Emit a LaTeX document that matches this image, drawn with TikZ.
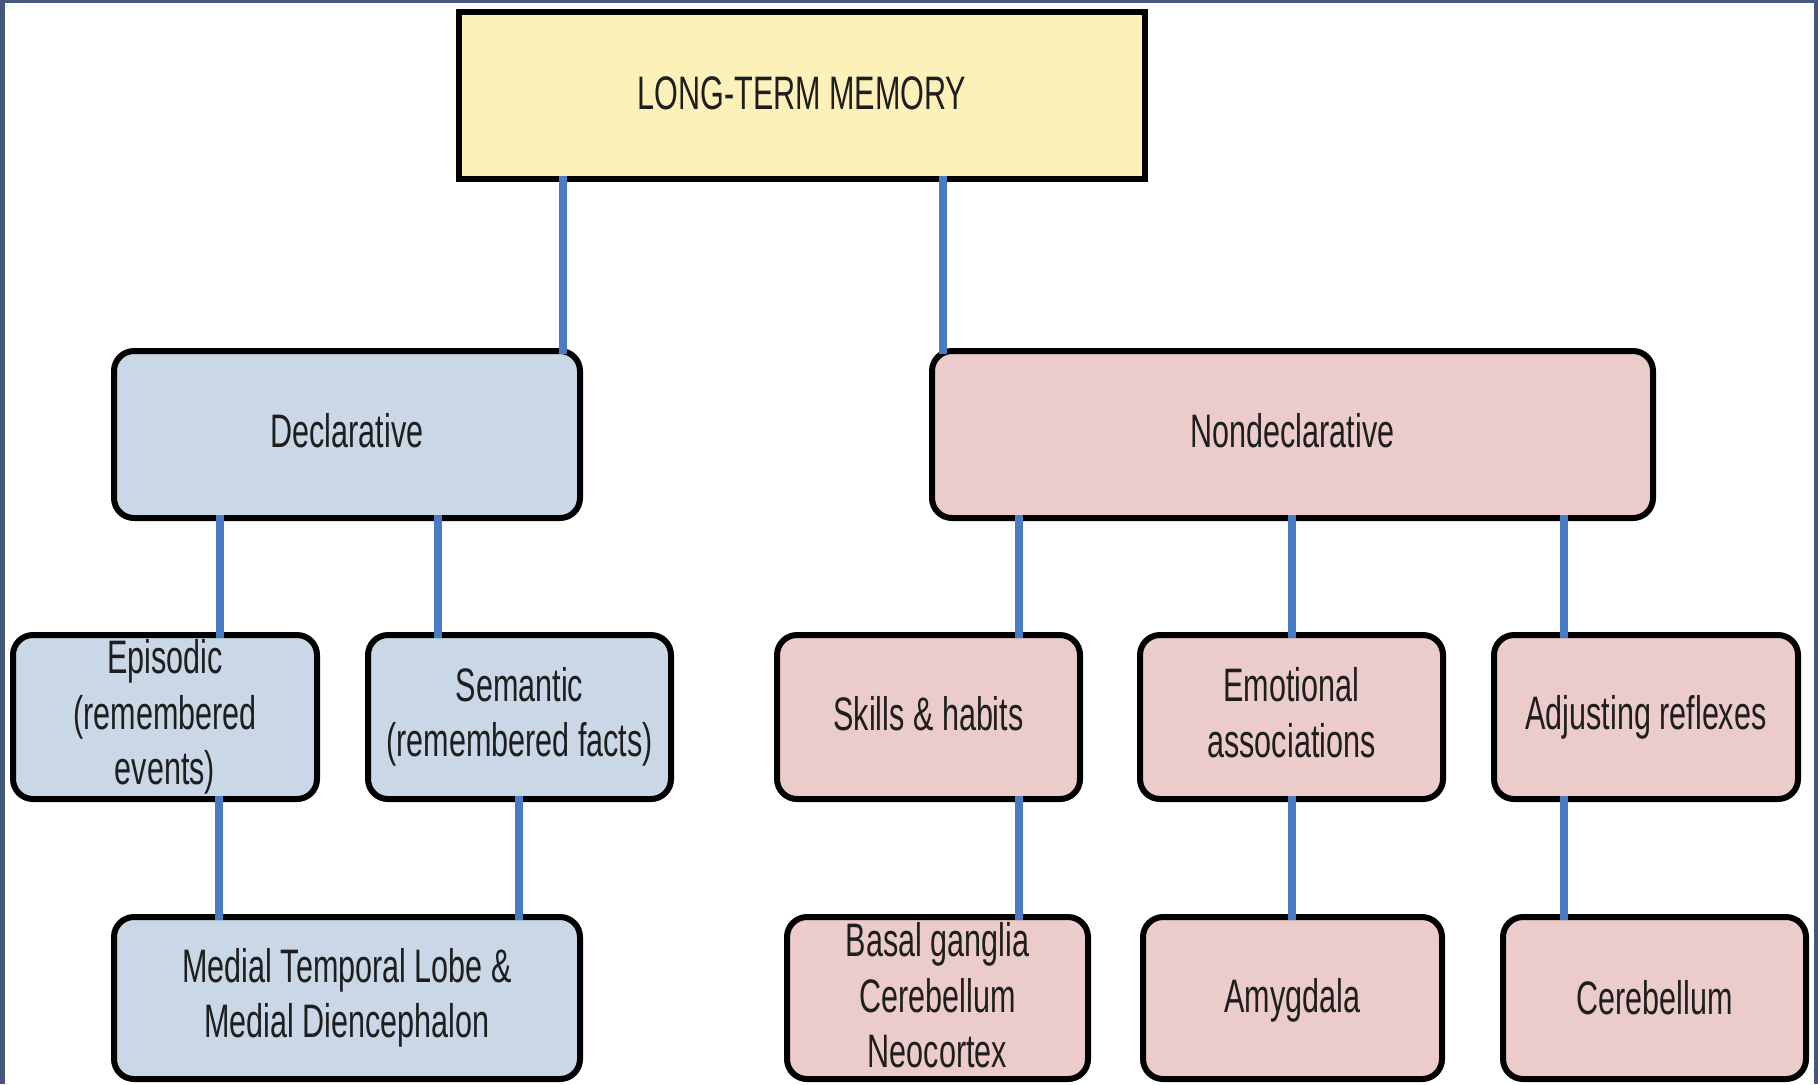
\documentclass[tikz,border=0pt]{standalone}
\usepackage{fontspec}
\setmainfont{Liberation Sans}[FakeStretch=0.65]
\definecolor{frame}{HTML}{45577A}
\definecolor{ltmfill}{HTML}{FBF1B9}
\definecolor{decfill}{HTML}{C9D7E6}
\definecolor{ndfill}{HTML}{ECCCCB}
\definecolor{link}{HTML}{4A7CC6}
\definecolor{ink}{HTML}{1E1E1E}
\tikzset{
  box/.style={draw=black, line width=3pt, align=center, text=ink,
    font=\fontsize{23.5pt}{27.8pt}\selectfont, inner sep=0pt},
  rbox/.style={box, rounded corners=10pt},
  decbox/.style={rbox, fill=decfill},
  ndbox/.style={rbox, fill=ndfill},
  row2/.style={minimum height=83.5pt},
  row3/.style={minimum height=82pt},
  row4/.style={minimum height=81pt},
  conn/.style={draw=link, line width=4pt}
}
\begin{document}
\begin{tikzpicture}[x=0.5pt, y=-0.5pt]
\useasboundingbox (0,0) rectangle (1818,1084);
\fill[frame] (0,0) rectangle (1818,1084);
\fill[white] (5,3) rectangle (1814,1084);

% top
\node[box, fill=ltmfill, minimum width=343pt, minimum height=83.5pt, text depth=2.5pt] (ltm) at (802,95.5) {LONG-TERM MEMORY};

% level 2
\node[decbox, row2, minimum width=233pt, text depth=4pt] (decl) at (347,434.5) {Declarative};
\node[ndbox, row2, minimum width=360.5pt, text depth=4pt] (nondecl) at (1292.5,434.5) {Nondeclarative};

% level 3
\node[decbox, row3, minimum width=152pt] (epi) at (165,717) {Episodic\\(remembered\\events)};
\node[decbox, row3, minimum width=151.5pt] (sem) at (519.5,717) {Semantic\\(remembered facts)};
\node[ndbox, row3, minimum width=151.5pt, text depth=3.5pt] (skill) at (928.5,717) {Skills \& habits};
\node[ndbox, row3, minimum width=151.5pt, text depth=4.5pt] (emo) at (1291.5,717) {Emotional\\associations};
\node[ndbox, row3, minimum width=152pt] (adj) at (1646,717) {Adjusting reflexes};

% level 4
\node[decbox, row4, minimum width=233pt] (mtl) at (347,998) {Medial Temporal Lobe \&\\Medial Diencephalon};
\node[ndbox, row4, minimum width=150.5pt, text depth=3pt] (basal) at (937.5,998) {Basal ganglia\\Cerebellum\\Neocortex};
\node[ndbox, row4, minimum width=149.5pt, text depth=2.5pt] (amy) at (1292.5,998) {Amygdala};
\node[ndbox, row4, minimum width=151.5pt] (cereb) at (1654.5,998) {Cerebellum};

% connectors
\draw[conn] ([yshift=3pt]ltm.south -| 563,0) -- ([yshift=-3pt]decl.north -| 563,0);
\draw[conn] ([yshift=3pt]ltm.south -| 943,0) -- ([yshift=-3pt]nondecl.north -| 943,0);
\draw[conn] ([yshift=3pt]decl.south -| 220,0) -- ([yshift=-3pt]epi.north -| 220,0);
\draw[conn] ([yshift=3pt]decl.south -| 438,0) -- ([yshift=-3pt]sem.north -| 438,0);
\draw[conn] ([yshift=3pt]epi.south -| 219,0) -- ([yshift=-3pt]mtl.north -| 219,0);
\draw[conn] ([yshift=3pt]sem.south -| 519,0) -- ([yshift=-3pt]mtl.north -| 519,0);
\draw[conn] ([yshift=3pt]nondecl.south -| 1019,0) -- ([yshift=-3pt]skill.north -| 1019,0);
\draw[conn] ([yshift=3pt]nondecl.south -| 1292,0) -- ([yshift=-3pt]emo.north -| 1292,0);
\draw[conn] ([yshift=3pt]nondecl.south -| 1564,0) -- ([yshift=-3pt]adj.north -| 1564,0);
\draw[conn] ([yshift=3pt]skill.south -| 1019,0) -- ([yshift=-3pt]basal.north -| 1019,0);
\draw[conn] ([yshift=3pt]emo.south -| 1292,0) -- ([yshift=-3pt]amy.north -| 1292,0);
\draw[conn] ([yshift=3pt]adj.south -| 1564,0) -- ([yshift=-3pt]cereb.north -| 1564,0);
\end{tikzpicture}
\end{document}
